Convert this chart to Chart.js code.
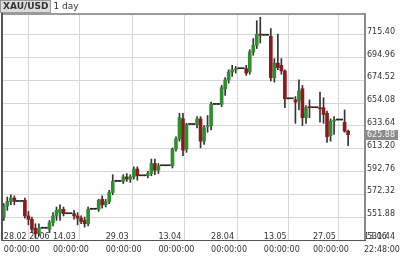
<!DOCTYPE html>
<html>
<head>
<meta charset="utf-8">
<script src="https://cdn.jsdelivr.net/npm/chart.js@4.4.1/dist/chart.umd.min.js"></script>
<style>
  html, body { margin: 0; padding: 0; background: #fff; }
  #wrap { position: relative; width: 400px; height: 256px; }
  #title { position: absolute; left: 0; top: 0; font: 9px 'DejaVu Sans', sans-serif; color: #333; line-height: 11px; }
  #title .sym { display: inline-block; font-weight: bold; background: #dcdcdc; border: 1px solid #9a9a9a; padding: 0 2px; }
  #title .per { margin-left: 2px; }
</style>
</head>
<body>
<div id="wrap">
  <canvas id="chart" width="400" height="256"></canvas>
  <div id="title"><span class="sym">XAU/USD</span><span class="per">1 day</span></div>
</div>
<script>
// daily candles from 28.02.2006 (one entry per calendar day, weekends flat)
const opens = [
  552, 562, 566, 569, 566, 566, 567,
  553, 550, 542, 538, 542, 542, 541,
  547, 553, 556, 559, 555, 555, 555,
  553, 551, 549, 546, 559, 559, 559,
  568, 563, 566, 574, 584, 584, 584,
  588, 586, 588, 595, 589, 589, 589,
  591, 600, 594, 598, 598, 598, 598,
  613, 622, 640, 613, 635, 635, 635,
  640, 620, 633, 634, 653, 653, 653,
  667, 675, 682, 684, 685, 685, 685,
  682, 700, 706, 716, 715, 715, 714,
  677, 690, 688, 683, 658, 658, 657,
  656, 667, 641, 651, 650, 650, 650,
  650, 645, 625, 638, 639, 639, 637,
  629
];
const highs = [
  564, 570, 572, 571, 566, 566, 569,
  557, 552, 546, 546, 542, 542, 549,
  556, 561, 563, 561, 555, 555, 558,
  556, 553, 552, 561, 559, 559, 568,
  571, 568, 576, 590, 584, 584, 590,
  591, 590, 597, 597, 589, 589, 593,
  604, 604, 600, 598, 598, 598, 614,
  624, 645, 645, 636, 635, 635, 642,
  642, 634, 643, 655, 653, 653, 670,
  677, 684, 688, 687, 685, 685, 688,
  702, 712, 728, 731, 715, 715, 721,
  694, 716, 694, 684, 658, 658, 660,
  675, 670, 652, 657, 650, 650, 664,
  659, 647, 640, 642, 639, 639, 648,
  630
];
const lows = [
  549, 558, 563, 563, 566, 566, 551,
  545, 538, 533, 535, 542, 542, 538,
  544, 549, 549, 553, 555, 555, 550,
  545, 546, 543, 544, 559, 559, 557,
  560, 561, 564, 572, 584, 584, 582,
  584, 583, 586, 585, 589, 589, 587,
  589, 590, 591, 598, 598, 598, 596,
  611, 620, 607, 610, 635, 635, 632,
  614, 617, 628, 630, 653, 653, 651,
  661, 672, 678, 681, 685, 685, 679,
  680, 697, 703, 708, 715, 715, 674,
  673, 684, 680, 650, 658, 658, 636,
  648, 634, 636, 641, 650, 650, 637,
  636, 619, 620, 626, 639, 639, 628,
  616
];
const closes = [
  562, 566, 569, 566, 566, 566, 553,
  550, 541, 537, 542, 542, 542, 547,
  553, 558, 559, 555, 555, 555, 553,
  551, 548, 546, 559, 559, 559, 567,
  563, 566, 574, 584, 584, 584, 588,
  586, 588, 595, 589, 589, 589, 591,
  600, 594, 598, 598, 598, 598, 613,
  622, 641, 612, 635, 635, 635, 640,
  620, 632, 634, 653, 653, 653, 668,
  675, 682, 684, 685, 685, 685, 681,
  700, 706, 716, 715, 715, 715, 677,
  690, 686, 683, 658, 658, 658, 655,
  665, 641, 650, 650, 650, 650, 649,
  644, 624, 638, 639, 639, 639, 629,
  625.88
];

// time axis: day offsets of the date labels, last one is the right edge
const tickDays  = [0, 14, 29, 44, 59, 74, 88];
const tickDates = ['28.02 2006', '14.03', '29.03', '13.04', '28.04', '13.05', '27.05', '13.06'];
const tickTimes = ['00:00:00', '00:00:00', '00:00:00', '00:00:00', '00:00:00', '00:00:00', '00:00:00', '22:48:00'];

// price axis
const priceTicks = [531.44, 551.88, 572.32, 592.76, 613.20, 633.64, 654.08, 674.52, 694.96, 715.40];
const priceMin = 531.44;
const priceMax = 734.0;
const dayMin = -0.23;
const dayMax = 102.52;

const UP = '#2f8f2f';
const DOWN = '#8c1a1a';
const FLAT = '#222';

const bodyColors = opens.map((o, i) => closes[i] > o ? UP : (closes[i] < o ? DOWN : FLAT));

// frame round the plot + last price badge
const framePlugin = {
    id: 'frame',
    afterDraw(chart) {
        const { ctx, chartArea: a, scales } = chart;
        ctx.save();
        ctx.fillStyle = '#9a9a9a';
        ctx.fillRect(a.left - 1, a.top - 1, a.right - a.left + 2, 2);   // top
        ctx.fillStyle = '#8a8a8a';
        ctx.fillRect(a.right, a.top - 1, 2, a.bottom - a.top + 1);     // right
        ctx.fillStyle = '#555';
        ctx.fillRect(a.left - 2, a.top - 1, 2, a.bottom - a.top + 1);  // left
        ctx.fillRect(a.left - 2, a.bottom, a.right - a.left + 4, 1);  // bottom

        const last = closes[closes.length - 1];
        const y = Math.round(scales.y.getPixelForValue(last));
        ctx.fillStyle = '#8d8d8d';
        ctx.fillRect(a.right + 2, y - 5, 32, 10);
        ctx.fillStyle = '#f4f4f4';
        ctx.font = '8px "DejaVu Sans"';
        ctx.textBaseline = 'middle';
        ctx.fillText(last.toFixed(2), a.right + 3, y);
        ctx.restore();
    }
};

new Chart(document.getElementById('chart'), {
    type: 'bar',
    data: {
        datasets: [{
            label: 'body',
            data: opens.map((o, i) => ({ x: i, y: [o, closes[i]] })),
            backgroundColor: bodyColors,
            barThickness: 3,
            minBarLength: 1,
            borderWidth: 0,
            grouped: false,
            order: 0
        }, {
            label: 'wick',
            data: lows.map((l, i) => ({ x: i, y: [l, highs[i]] })),
            backgroundColor: '#333',
            barThickness: 1,
            borderWidth: 0,
            grouped: false,
            order: 1
        }]
    },
    options: {
        responsive: false,
        animation: false,
        devicePixelRatio: 1,
        layout: { padding: { left: 3, top: 14, right: 0, bottom: 0 } },
        plugins: { legend: { display: false }, tooltip: { enabled: false } },
        scales: {
            x: {
                type: 'linear',
                min: dayMin,
                max: dayMax,
                offset: false,
                afterBuildTicks: (s) => { s.ticks = tickDays.concat([dayMax]).map(v => ({ value: v })); },
                afterFit: (s) => { s.height = 16; },
                grid: { color: '#d6d6d6', drawTicks: false },
                border: { display: false },
                ticks: {
                    autoSkip: false,
                    maxRotation: 0,
                    minRotation: 0,
                    align: 'start',
                    mirror: true,
                    padding: -3,
                    color: '#333',
                    font: { family: 'DejaVu Sans', size: 8, lineHeight: 1.625 },
                    callback: (v, i) => [tickDates[i], tickTimes[i]]
                }
            },
            y: {
                position: 'right',
                min: priceMin,
                max: priceMax,
                afterBuildTicks: (s) => { s.ticks = priceTicks.map(v => ({ value: v })); },
                afterFit: (s) => { s.width = 36; },
                grid: { color: '#d6d6d6', drawTicks: false },
                border: { display: false },
                ticks: {
                    padding: 3,
                    labelOffset: -3,
                    color: '#333',
                    font: { family: 'DejaVu Sans', size: 8 },
                    callback: (v, i) => priceTicks[i].toFixed(2)
                }
            }
        }
    },
    plugins: [framePlugin]
});
</script>
</body>
</html>
